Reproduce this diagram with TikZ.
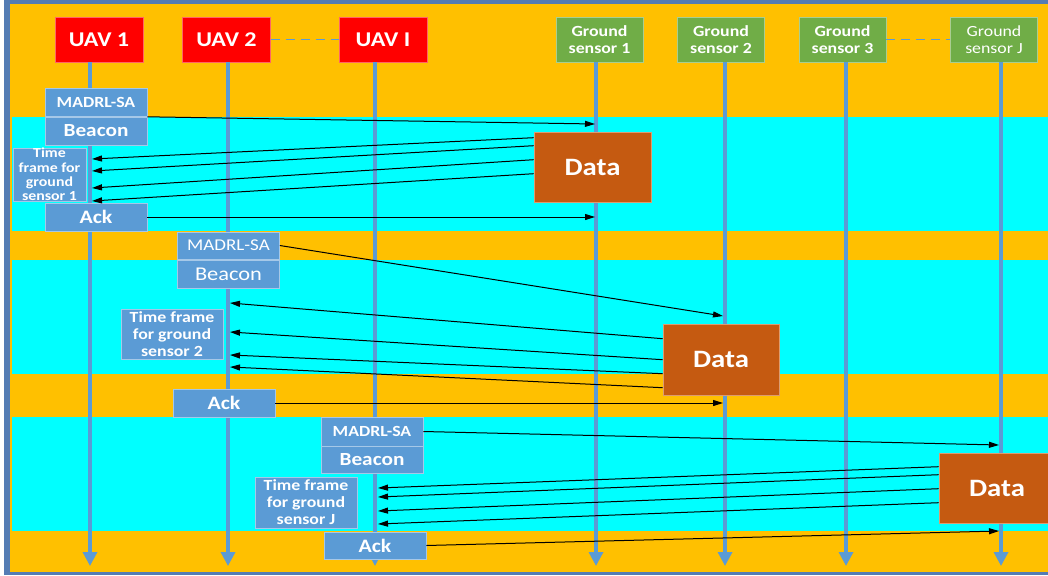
\documentclass[tikz,border=0pt]{standalone}
\usepackage{fontspec}
\setmainfont{Carlito}[FakeStretch=1.15]
\usetikzlibrary{arrows.meta,calc}
\definecolor{orng}{HTML}{FFC000}
\definecolor{cyn}{HTML}{00FFFF}
\definecolor{lline}{HTML}{5B9BD5}
\definecolor{bblue}{HTML}{5B9BD5}
\definecolor{uavred}{HTML}{FF0000}
\definecolor{gsgreen}{HTML}{70AD47}
\definecolor{datac}{HTML}{C55A11}
\definecolor{framec}{RGB}{84,124,180}
\tikzset{
  uav/.style={fill=uavred, draw=uavred!60!white, line width=0.6pt, text=white,
    font=\bfseries\fontsize{21}{23}\selectfont, minimum width=88pt, minimum height=45pt, inner sep=0pt},
  gs/.style={fill=gsgreen, draw=gsgreen!60!white, line width=0.6pt, text=white, align=center,
    font=\bfseries\fontsize{15.5}{17}\selectfont, minimum width=87pt, minimum height=45pt, inner sep=0pt},
  gsn/.style={gs, font=\fontsize{15.5}{17}\selectfont},
  bbox/.style={fill=bblue, draw=bblue!55!white, line width=0.6pt, text=white, inner sep=0pt, align=center},
  madbox/.style={bbox, minimum width=102pt, minimum height=28pt, font=\bfseries\fontsize{15.5}{17}\selectfont},
  beabox/.style={bbox, minimum width=102pt, minimum height=28pt, font=\bfseries\fontsize{18.5}{20}\selectfont},
  ackbox/.style={bbox, minimum width=102pt, minimum height=28pt, font=\bfseries\fontsize{19}{20}\selectfont},
  tfbox/.style={bbox, minimum width=102pt, minimum height=50pt, font=\bfseries\fontsize{15.5}{17}\selectfont},
  databox/.style={fill=datac, draw=datac!60!white, line width=0.6pt, text=white,
    font=\bfseries\fontsize{25}{27}\selectfont, minimum width=117pt, minimum height=70pt, inner sep=0pt},
  life/.style={draw=lline, line width=3.3pt, -{Triangle[length=14pt,width=14pt]}},
  msg/.style={draw=black, line width=1pt, -{Triangle[length=10pt,width=6pt]}},
  dashlink/.style={draw=lline, line width=1.4pt, dash pattern=on 9pt off 6pt},
}
\begin{document}
\begin{tikzpicture}[x=1pt,y=-1pt]
\clip (0,0) rectangle (1048,575);
% background
\fill[white] (0,0) rectangle (1048,575);
\fill[framec] (4,0) rectangle (1048,575);
\fill[orng] (10,4) rectangle (1048,572);
\fill[cyn] (12,117) rectangle (1048,231);
\fill[cyn] (12,260) rectangle (1048,374);
\fill[cyn] (12,417) rectangle (1048,531);

% header nodes
\node[uav] (uav1) at (99,39.5) {UAV 1};
\node[uav] (uav2) at (226.5,39.5) {UAV 2};
\node[uav] (uavI) at (383,39.5) {UAV I};
\node[gs] (gs1) at (599.5,39.5) {Ground\\sensor 1};
\node[gs] (gs2) at (721,39.5) {Ground\\sensor 2};
\node[gs] (gs3) at (842.5,39.5) {Ground\\sensor 3};
\node[gsn] (gsJ) at (994,39.5) {Ground\\sensor J};

\draw[dashlink] (uav2.east) -- (uavI.west);
\draw[dashlink] (gs3.east) -- (gsJ.west);

% lifelines
\coordinate (b1) at (90,566);
\coordinate (b2) at (228,566);
\coordinate (bI) at (375,566);
\coordinate (c1) at (596,566);
\coordinate (c2) at (725,566);
\coordinate (c3) at (846,566);
\coordinate (cJ) at (1001,566);
\draw[life] (uav1.south -| b1) -- (b1);
\draw[life] (uav2.south -| b2) -- (b2);
\draw[life] (uavI.south -| bI) -- (bI);
\draw[life] (gs1.south -| c1) -- (c1);
\draw[life] (gs2.south -| c2) -- (c2);
\draw[life] (gs3.south -| c3) -- (c3);
\draw[life] (gsJ.south -| cJ) -- (cJ);

% cycle 1
\node[madbox] (mad1) at (96,102.5) {MADRL-SA};
\node[beabox] (bea1) at (96,131) {Beacon};
\node[bbox, minimum width=73pt, minimum height=51pt, font=\bfseries\fontsize{13.8}{14.3}\selectfont] (tf1) at (49.5,174.5) {Time\\frame for\\ground\\sensor 1};
\node[ackbox] (ack1) at (96,217) {Ack};
\node[databox] (data1) at (592.5,167) {Data};

\coordinate (g1m) at (595,124);
\coordinate (g1k) at (595,217);
\coordinate (u1a) at (92,159);
\coordinate (u1b) at (92,171);
\coordinate (u1c) at (92,188);
\coordinate (u1d) at (92,201);
\draw[msg] (mad1.south east) -- (g1m);
\draw[msg] ($(data1.north west)+(0,6)$) -- (u1a);
\draw[msg] ($(data1.north west)+(0,14)$) -- (u1b);
\draw[msg] ($(data1.north west)+(0,28)$) -- (u1c);
\draw[msg] ($(data1.north west)+(0,42)$) -- (u1d);
\draw[msg] (ack1.east) -- (g1k);

% cycle 2
\node[madbox, font=\fontsize{16.5}{18}\selectfont, minimum height=27pt] (mad2) at (228.5,245.5) {MADRL-SA};
\node[beabox, font=\fontsize{19.5}{21}\selectfont] (bea2) at (228.5,274) {Beacon};
\node[tfbox] (tf2) at (172,334) {Time frame\\for ground\\sensor 2};
\node[ackbox] (ack2) at (224,403) {Ack};
\node[databox, minimum width=116pt, minimum height=71pt] (data2) at (721,359.5) {Data};

\coordinate (g2m) at (723,316);
\coordinate (g2k) at (723,403);
\coordinate (u2a) at (230,303);
\coordinate (u2b) at (230,332);
\coordinate (u2c) at (230,355);
\coordinate (u2d) at (230,367);
\draw[msg] (mad2.east) -- (g2m);
\draw[msg] ($(data2.north west)+(0,15)$) -- (u2a);
\draw[msg] ($(data2.north west)+(0,36)$) -- (u2b);
\draw[msg] ($(data2.north west)+(0,50)$) -- (u2c);
\draw[msg] ($(data2.north west)+(0,64)$) -- (u2d);
\draw[msg] (ack2.east) -- (g2k);

% cycle 3
\node[madbox, minimum height=29pt] (mad3) at (372,431.5) {MADRL-SA};
\node[beabox, minimum height=27pt] (bea3) at (372,459.5) {Beacon};
\node[tfbox, minimum height=51pt] (tf3) at (306,502.5) {Time frame\\for ground\\sensor J};
\node[ackbox, minimum height=27pt] (ack3) at (375,545.5) {Ack};
\node[databox, minimum width=116pt] (data3) at (997,488) {Data};

\coordinate (gJm) at (999,445);
\coordinate (gJk) at (999,531);
\coordinate (u3a) at (378,488);
\coordinate (u3b) at (378,497);
\coordinate (u3c) at (378,511);
\coordinate (u3d) at (378,524);
\draw[msg] (mad3.east) -- (gJm);
\draw[msg] ($(data3.north west)+(0,14)$) -- (u3a);
\draw[msg] ($(data3.north west)+(0,22)$) -- (u3b);
\draw[msg] ($(data3.north west)+(0,36)$) -- (u3c);
\draw[msg] ($(data3.north west)+(0,50)$) -- (u3d);
\draw[msg] (ack3.east) -- (gJk);
\end{tikzpicture}
\end{document}
